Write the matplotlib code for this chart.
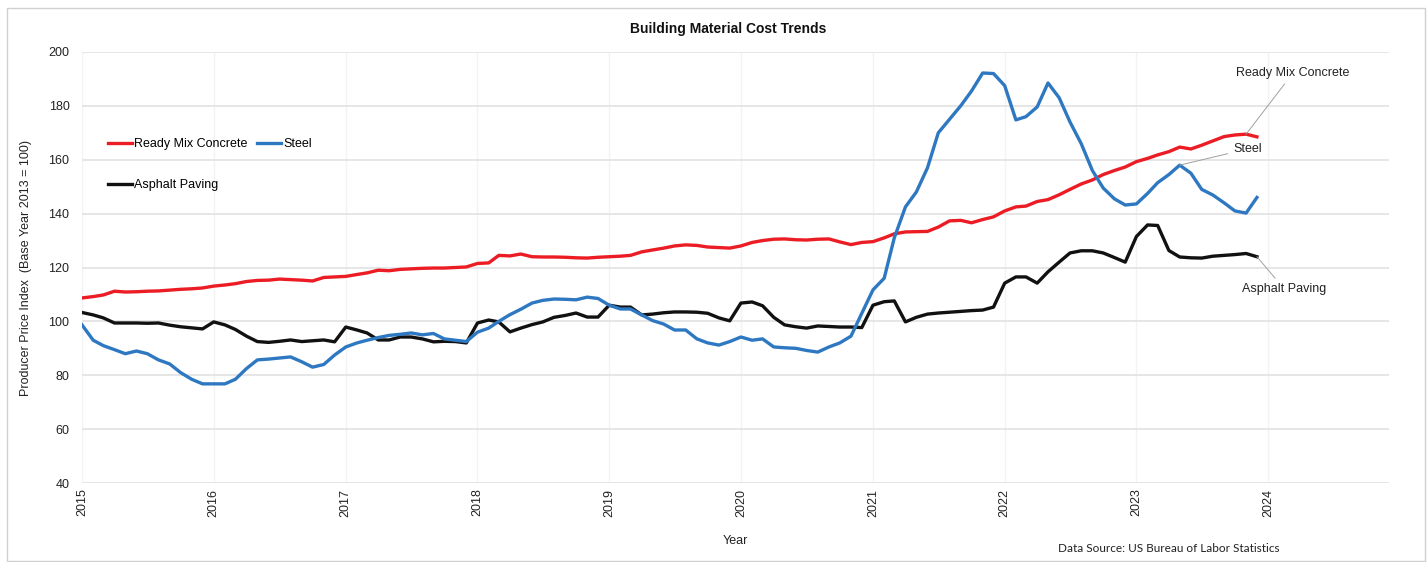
import numpy as np
import pandas as pd
import matplotlib
matplotlib.use("Agg")
import matplotlib.pyplot as plt
import matplotlib.dates as mdates
from matplotlib.patches import Rectangle

plt.rcParams['font.family'] = ['Liberation Sans', 'DejaVu Sans']

# monthly PPI, Jan 2015 - Dec 2023 (base year 2013 = 100)
months = pd.date_range("2015-01-01", "2023-12-01", freq="MS")

concrete = [
    108.7, 109.2, 109.8, 111.2, 110.9, 111.0, 111.2, 111.3, 111.6, 111.9, 112.1, 112.4,
    113.1, 113.5, 114.0, 114.8, 115.2, 115.3, 115.7, 115.5, 115.3, 115.0, 116.3, 116.5,
    116.7, 117.4, 118.0, 119.0, 118.8, 119.3, 119.5, 119.7, 119.8, 119.8, 120.0, 120.2,
    121.5, 121.7, 124.5, 124.3, 125.0, 124.0, 123.9, 123.9, 123.8, 123.6, 123.5, 123.8,
    124.0, 124.2, 124.5, 125.8, 126.5, 127.2, 128.0, 128.4, 128.2, 127.6, 127.4, 127.2,
    128.0, 129.3, 130.0, 130.5, 130.6, 130.3, 130.2, 130.5, 130.6, 129.5, 128.5, 129.3,
    129.6, 131.0, 132.5, 133.2, 133.3, 133.4, 135.0, 137.3, 137.5, 136.6, 137.8, 138.8,
    141.0, 142.5, 142.8, 144.5, 145.2, 147.0, 149.0, 151.0, 152.5, 154.5, 156.0, 157.3,
    159.3, 160.5, 161.8, 163.0, 164.7, 164.0, 165.4, 167.0, 168.6, 169.2, 169.5, 168.5,
]

steel = [
    98.7, 93.0, 91.0, 89.5, 88.0, 89.0, 88.0, 85.7, 84.2, 81.0, 78.5, 76.8,
    76.8, 76.8, 78.5, 82.5, 85.7, 86.0, 86.4, 86.8, 85.0, 83.0, 84.0, 87.5,
    90.5, 92.0, 93.0, 94.0, 94.8, 95.2, 95.7, 95.0, 95.5, 93.5, 93.0, 92.5,
    96.0, 97.5, 100.0, 102.5, 104.5, 106.8, 107.8, 108.3, 108.2, 108.0, 109.0, 108.5,
    106.0, 104.6, 104.6, 102.4, 100.3, 99.0, 96.8, 96.8, 93.5, 92.0, 91.2, 92.5,
    94.2, 93.0, 93.5, 90.5, 90.2, 90.0, 89.2, 88.6, 90.5, 92.0, 94.5, 103.0,
    111.7, 116.0, 131.0, 142.5, 148.0, 157.0, 170.0, 175.0, 180.0, 185.5, 192.2, 192.0,
    187.5, 174.8, 176.0, 179.6, 188.5, 183.0, 174.0, 166.0, 156.0, 149.5, 145.5, 143.2,
    143.6, 147.5, 151.5, 154.5, 158.0, 155.0, 149.0, 146.9, 144.0, 141.0, 140.2, 146.0,
]

asphalt = [
    103.3, 102.4, 101.3, 99.4, 99.4, 99.4, 99.3, 99.4, 98.6, 98.0, 97.6, 97.2,
    99.8, 98.7, 97.0, 94.5, 92.5, 92.2, 92.6, 93.1, 92.5, 92.8, 93.1, 92.4,
    97.9, 96.8, 95.7, 93.1, 93.1, 94.2, 94.2, 93.5, 92.4, 92.6, 92.5, 92.0,
    99.4, 100.5, 99.8, 96.1, 97.5, 98.8, 99.8, 101.5, 102.2, 103.1, 101.6, 101.6,
    106.0, 105.3, 105.3, 102.4, 102.7, 103.2, 103.5, 103.5, 103.4, 103.0, 101.3, 100.2,
    106.8, 107.2, 105.8, 101.5, 98.7, 98.0, 97.5, 98.3, 98.1, 97.9, 97.9, 97.7,
    106.0, 107.3, 107.6, 99.8, 101.5, 102.7, 103.1, 103.4, 103.7, 104.0, 104.2, 105.3,
    114.2, 116.5, 116.5, 114.2, 118.4, 122.0, 125.4, 126.2, 126.2, 125.4, 123.7, 122.0,
    131.5, 135.8, 135.6, 126.3, 123.9, 123.6, 123.5, 124.2, 124.5, 124.8, 125.2, 124.0,
]

fig = plt.figure(figsize=(14.28, 5.62), dpi=100)
ax = fig.add_axes([82 / 1428, 1 - 483 / 562, 1307 / 1428, 431 / 562])

# thin frame around the whole chart
fig.patches.append(Rectangle((7 / 1428, 1 / 562), 1418 / 1428, 553 / 562,
                             transform=fig.transFigure, fill=False,
                             edgecolor="#d0d0d0", lw=1))

ax.plot(months, concrete, color="#ec1c24", lw=2.4, label="Ready Mix Concrete")
ax.plot(months, asphalt, color="#111111", lw=2.4, label="Asphalt Paving")
ax.plot(months, steel, color="#2e78c2", lw=2.4, label="Steel")

ax.set_ylim(40, 200)
ax.set_yticks(range(40, 201, 20))
ax.set_xlim(pd.Timestamp("2015-01-01"), pd.Timestamp("2024-12-01"))
ax.xaxis.set_major_locator(mdates.YearLocator())
ax.xaxis.set_major_formatter(mdates.DateFormatter("%Y"))

ax.grid(axis="y", color="#e2e2e2", lw=1.2)
ax.grid(axis="x", color="#f3f3f3", lw=1)
ax.set_axisbelow(True)
for s in ax.spines.values():
    s.set_visible(False)
ax.tick_params(axis="y", length=0, labelsize=9, colors="#222222", pad=9)
ax.tick_params(axis="x", length=0, labelsize=9, colors="#222222", pad=4)
plt.setp(ax.get_xticklabels(), rotation=90)

ax.set_ylabel("Producer Price Index  (Base Year 2013 = 100)", fontsize=9, color="#222222", labelpad=12)
ax.set_xlabel("Year", fontsize=9, color="#222222", labelpad=13)

fig.text(728 / 1428, 1 - 29 / 562, "Building Material Cost Trends", ha="center", va="center",
         fontsize=10, fontweight="bold", color="#111111")
fig.text(1058 / 1428, 1 - 548 / 562, "Data Source: US Bureau of Labor Statistics",
         ha="left", va="center", fontsize=8.5, family=["Lato", "DejaVu Sans"], color="#222222")

leg = ax.legend(loc="upper left", bbox_to_anchor=(0.015, 0.814), ncol=2, frameon=False,
                fontsize=9, borderpad=0, labelspacing=2.3, handlelength=1.9,
                handletextpad=0.2, columnspacing=0.8)

# end-of-line labels with thin leader lines
lead = dict(arrowstyle="-", color="#a0a0a0", lw=0.7, shrinkA=2, shrinkB=0)
ax.annotate("Ready Mix Concrete", xy=(months[106], concrete[106]),
            xytext=(pd.Timestamp("2024-03-10"), 192.2), ha="center", va="center",
            fontsize=9, color="#222222", arrowprops=lead)
ax.annotate("Steel", xy=(months[100], steel[100]),
            xytext=(pd.Timestamp("2023-11-05"), 164), ha="center", va="center",
            fontsize=9, color="#222222", arrowprops=lead)
ax.annotate("Asphalt Paving", xy=(months[107], asphalt[107]),
            xytext=(pd.Timestamp("2024-02-15"), 112), ha="center", va="center",
            fontsize=9, color="#222222", arrowprops=lead)

fig.savefig("out.png", dpi=100, facecolor="white")
